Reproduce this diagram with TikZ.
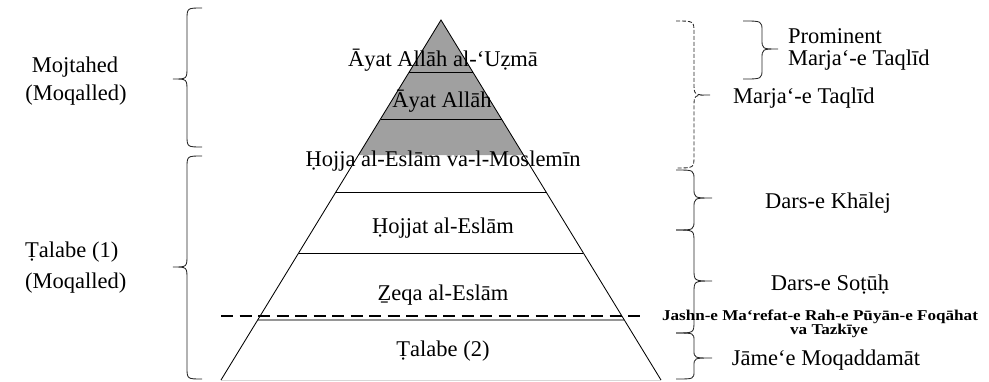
\documentclass[tikz,border=0pt]{standalone}
\usepackage{fontspec}
\setmainfont{Liberation Serif}
\usepackage{graphicx}
\usetikzlibrary{calc}
\definecolor{pyrgray}{RGB}{160,160,160}
\definecolor{midgray}{RGB}{150,150,150}
\definecolor{lightline}{RGB}{215,215,215}
% #1 options, #2 x of ends, #3 x of spine, #4 x of tip, #5 y top, #6 y tip, #7 y bottom, #8 radius
\newcommand{\mybrace}[8][]{%
  \draw[bracestyle,#1] (#2,#5) .. controls (#3,#5) .. (#3,#5+#8) -- (#3,#6-#8)
     .. controls (#3,#6) .. (#4,#6) .. controls (#3,#6) .. (#3,#6+#8) -- (#3,#7-#8)
     .. controls (#3,#7) .. (#2,#7);}
\begin{document}
\begin{tikzpicture}[x=1pt,y=-1pt,
  lab/.style={font=\fontsize{22.5}{26}\selectfont, inner sep=0pt, anchor=base},
  labw/.style={lab, anchor=base west},
  small/.style={font=\fontsize{15}{16}\selectfont\bfseries, inner sep=0pt, anchor=base},
  bracestyle/.style={line width=0.85pt, black!85},
  pyrline/.style={line width=0.85pt, black}]
\useasboundingbox (0,0) rectangle (989,381);
% pyramid geometry
\coordinate (apex) at (441,20);
\coordinate (bl) at (221,380);
\coordinate (br) at (661,380);
% gray top
\fill[pyrgray] (apex) -- ($(apex)!0.375!(bl)$) -- ($(apex)!0.375!(br)$) -- cycle;
% horizontal lines
\draw[pyrline] ($(apex)!0.1444!(bl)$) -- ($(apex)!0.1444!(br)$);
\draw[pyrline] ($(apex)!0.275!(bl)$) -- ($(apex)!0.275!(br)$);
\draw[pyrline] ($(apex)!0.4778!(bl)$) -- ($(apex)!0.4778!(br)$);
\draw[pyrline] ($(apex)!0.6472!(bl)$) -- ($(apex)!0.6472!(br)$);
\draw[midgray, line width=1.5pt] ($(apex)!0.8333!(bl)$) -- ($(apex)!0.8333!(br)$);
\draw[lightline, line width=1pt] (bl) -- (br);
% sides
\draw[pyrline] (bl) -- (apex) -- (br);
% dashed line
\coordinate (dA) at (221,316);
\coordinate (dB) at (643,316);
\draw[black, line width=2.6pt, dash pattern=on 12pt off 6.5pt] (dA) -- (dB);
% pyramid labels
\node[lab] (t1) at (443,66) {Āyat Allāh al-‘Uẓmā};
\node[lab] (t2) at (442,107) {Āyat Allāh};
\node[lab] (t3) at (443,166) {Ḥojja al-Eslām va-l-Moslemīn};
\node[lab] (t4) at (443,233) {Ḥojjat al-Eslām};
\node[lab] (t5) at (443,300) {Ẕeqa al-Eslām};
\node[lab] (t6) at (443,356) {Ṭalabe (2)};
% left labels
\node[lab] (m1) at (75,72) {Mojtahed};
\node[lab] (m2) at (76,100) {(Moqalled)};
\node[labw] (s1) at (25,257) {Ṭalabe (1)};
\node[labw] (s2) at (25,288) {(Moqalled)};
% left braces
\mybrace{202}{187}{173}{8}{79}{147}{12}
\mybrace{202}{187}{173}{156}{267}{379}{12}
% right braces
\mybrace[dash pattern=on 4pt off 2pt]{676}{694}{710}{21}{95}{168}{12}
\mybrace{743}{762}{778}{21}{49}{79}{10}
\mybrace{676}{694}{712}{170}{198}{230}{10}
\mybrace{676}{694}{712}{230}{281}{333}{12}
\mybrace{676}{694}{712}{333}{358}{379}{8}
% right labels
\node[labw] (p1) at (788,43) {Prominent};
\node[labw] (p2) at (788,65) {Marja‘-e Taqlīd};
\node[labw] (mt) at (733,103) {Marja‘-e Taqlīd};
\node[lab] (dk) at (828,208) {Dars-e Khālej};
\node[lab] (ds) at (830,290) {Dars-e Soṭūḥ};
\node[small] (j1) at (820,320) {\scalebox{1.14}[1]{Jashn-e Ma‘refat-e Rah-e Pūyān-e Foqāhat}};
\node[small] (j2) at (829,334) {\scalebox{1.14}[1]{va Tazkīye}};
\node[lab] (jm) at (826,365) {Jāme‘e Moqaddamāt};
\end{tikzpicture}
\end{document}
